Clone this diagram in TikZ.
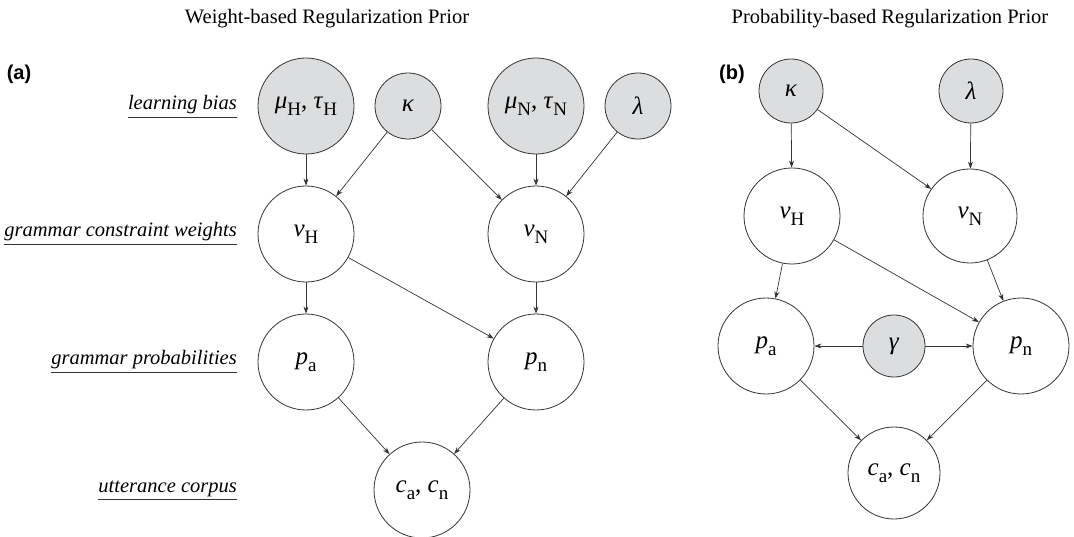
\documentclass[tikz,border=0pt]{standalone}
\usepackage{fontspec}
\setmainfont{Liberation Serif}[ItalicFont={Liberation Serif Italic}, BoldFont={Liberation Serif Bold}]
\newfontfamily\labfont{Liberation Sans}[BoldFont={Liberation Sans Bold}]
\usetikzlibrary{arrows.meta}
\definecolor{linecol}{HTML}{333333}
\definecolor{graycol}{HTML}{DCDDDE}
\newcommand\gv[2]{\textit{#1}\raisebox{-0.28em}{\fontsize{19}{19}\selectfont #2}}
\tikzset{
  nd/.style={circle, draw=linecol, line width=0.8pt, inner sep=0pt, fill=white,
    font=\fontsize{25}{25}\selectfont},
  big/.style={nd, minimum size=96pt},
  smallnd/.style={nd, minimum size=66pt},
  obs/.style={fill=graycol},
  arr/.style={draw=linecol, line width=0.7pt, -{Stealth[length=7pt,width=5pt]}},
  lab/.style={anchor=base east, inner sep=0pt, font=\fontsize{20.5}{20.5}\selectfont\itshape},
  ttl/.style={anchor=base, inner sep=0pt, font=\fontsize{20.5}{20.5}\selectfont},
  panel/.style={anchor=center, inner sep=0pt, font=\labfont\bfseries\fontsize{20}{20}\selectfont},
}
\begin{document}
\begin{tikzpicture}[x=1pt,y=-1pt]
\useasboundingbox (0,0) rectangle (1074,537);
% titles
\node[ttl] (t1) at (327,24) {Weight-based Regularization Prior};
\node[ttl] (t2) at (890,24) {Probability-based Regularization Prior};
\node[panel] (pa) at (19,74) {(a)};
\node[panel] (pb) at (732,74) {(b)};
% row labels
\node[lab] (l1) at (237,110) {learning bias};
\node[lab] (l2) at (237,237) {grammar constraint weights};
\node[lab] (l3) at (237,365) {grammar probabilities};
\node[lab] (l4) at (237,492) {utterance corpus};
\foreach \l in {l1,l2,l3,l4}{
  \draw[linecol, line width=0.8pt] ([yshift=-7pt]\l.base west) -- ([yshift=-7pt]\l.base east);
}
% panel (a)
\node[big,obs] (muH) at (306,106) {\gv{μ}{H}, \gv{τ}{H}};
\node[smallnd,obs] (kapA) at (408,106) {\textit{κ}};
\node[big,obs] (muN) at (536,106) {\gv{μ}{N}, \gv{τ}{N}};
\node[smallnd,obs] (lamA) at (638,106) {\textit{λ}};
\node[big] (vHa) at (306,234) {\gv{v}{H}};
\node[big] (vNa) at (536,234) {\gv{v}{N}};
\node[big] (paA) at (306,362) {\gv{p}{a}};
\node[big] (pnA) at (536,362) {\gv{p}{n}};
\node[big] (cA) at (422,490) {\gv{c}{a}, \gv{c}{n}};
\draw[arr] (muH) -- (vHa);
\draw[arr] (kapA) -- (vHa);
\draw[arr] (kapA) -- (vNa);
\draw[arr] (muN) -- (vNa);
\draw[arr] (lamA) -- (vNa);
\draw[arr] (vHa) -- (paA);
\draw[arr] (vHa) -- (pnA);
\draw[arr] (vNa) -- (pnA);
\draw[arr] (paA) -- (cA);
\draw[arr] (pnA) -- (cA);
% panel (b)
\node[nd,obs,minimum size=64pt] (kapB) at (791,91) {\textit{κ}};
\node[nd,obs,minimum size=64pt] (lamB) at (971,91) {\textit{λ}};
\node[big] (vHb) at (792,216) {\gv{v}{H}};
\node[nd,minimum size=94pt] (vNb) at (970,216) {\gv{v}{N}};
\node[big] (paB) at (766,346) {\gv{p}{a}};
\node[nd,obs,minimum size=62pt] (gamB) at (894,346) {\textit{γ}};
\node[big] (pnB) at (1021,346) {\gv{p}{n}};
\node[nd,minimum size=92pt] (cB) at (894,473) {\gv{c}{a}, \gv{c}{n}};
\draw[arr] (kapB) -- (vHb);
\draw[arr] (kapB) -- (vNb);
\draw[arr] (lamB) -- (vNb);
\draw[arr] (vHb) -- (paB);
\draw[arr] (vHb) -- (pnB);
\draw[arr] (vNb) -- (pnB);
\draw[arr] (gamB) -- (paB);
\draw[arr] (gamB) -- (pnB);
\draw[arr] (paB) -- (cB);
\draw[arr] (pnB) -- (cB);
\end{tikzpicture}
\end{document}
